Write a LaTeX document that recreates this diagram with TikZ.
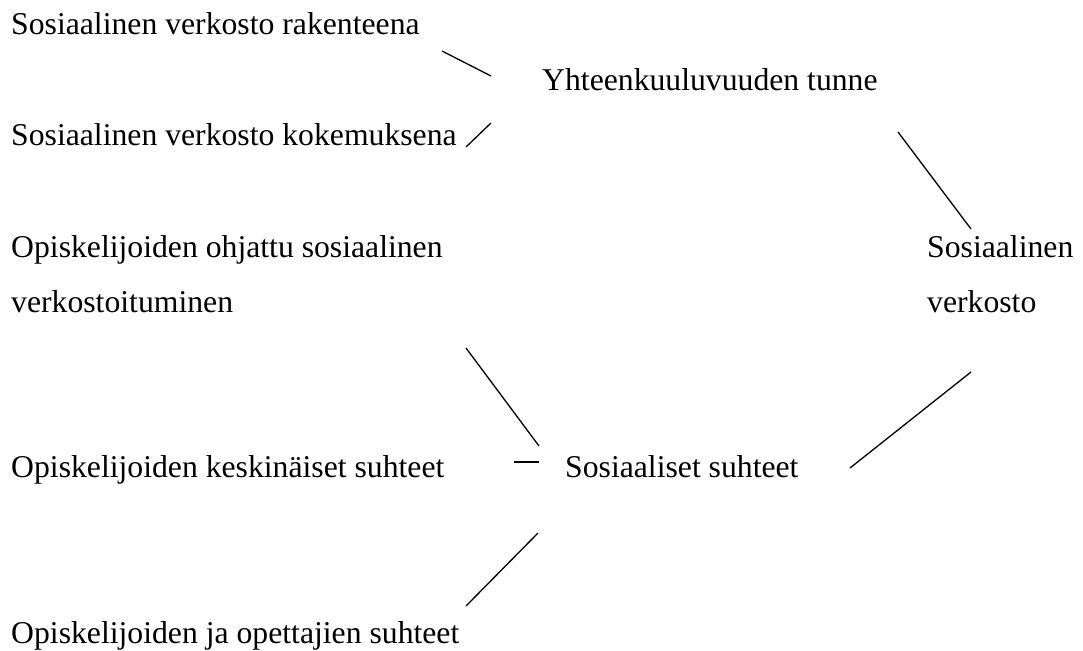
\documentclass[tikz,border=0pt]{standalone}
\usepackage{fontspec}
\setmainfont{Liberation Serif}
\begin{document}
\begin{tikzpicture}[x=1pt, y=-1pt, line join=round, line cap=butt,
  every node/.style={inner sep=0pt, anchor=base west, align=left,
    font=\fontsize{31.7}{54.9}\selectfont}]
\useasboundingbox (0,0) rectangle (1083,650);

\node (rak) at (11,35) {Sosiaalinen verkosto rakenteena};
\node (kok) at (11,146) {Sosiaalinen verkosto kokemuksena};
\node (yht) at (542,91) {Yhteenkuuluvuuden tunne};
\node (ohj) at (11,312) {Opiskelijoiden ohjattu sosiaalinen\\verkostoituminen};
\node (sver) at (927,312) {Sosiaalinen\\verkosto};
\node (kes) at (11,477) {Opiskelijoiden keskinäiset suhteet};
\node (sos) at (565,477) {Sosiaaliset suhteet};
\node (ope) at (11,643) {Opiskelijoiden ja opettajien suhteet};

\coordinate (A) at (442,51);
\coordinate (B) at (491,76);
\coordinate (C) at (466,147);
\coordinate (D) at (491,123);
\coordinate (E) at (898,132);
\coordinate (F) at (971,229);
\coordinate (G) at (466,348);
\coordinate (H) at (539,446);
\coordinate (I) at (514,462);
\coordinate (J) at (539,462);
\coordinate (K) at (850,468);
\coordinate (L) at (971,372);
\coordinate (M) at (538,533);
\coordinate (N) at (466,606);

\draw[line width=1.3] (A)--(B);
\draw[line width=1.3] (C)--(D);
\draw[line width=1.3] (E)--(F);
\draw[line width=1.3] (G)--(H);
\draw[line width=1.3] (I)--(J);
\draw[line width=1.3] (K)--(L);
\draw[line width=1.3] (M)--(N);
\end{tikzpicture}
\end{document}
